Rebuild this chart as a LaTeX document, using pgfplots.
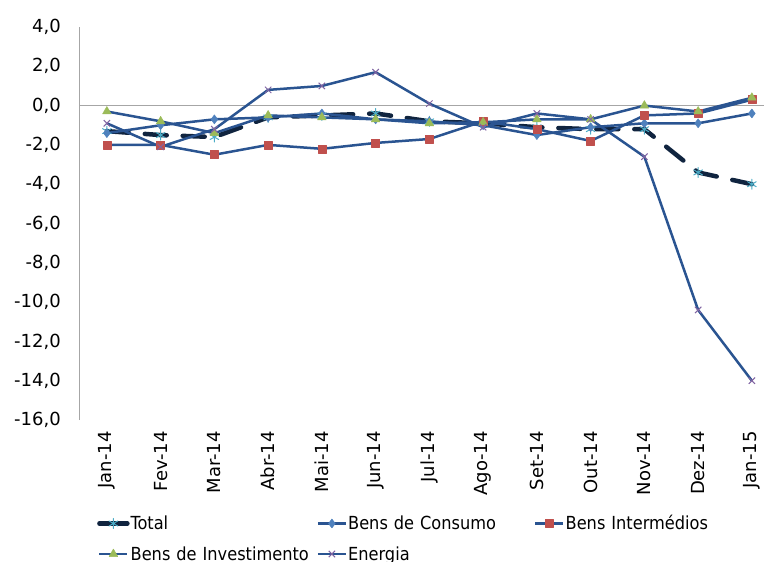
\documentclass[border=0pt]{standalone}
\usepackage{pgfplots}
\pgfplotsset{compat=1.18}
\usepackage{fontspec}
\setmainfont{DejaVu Sans}
\newfontfamily\condfont{DejaVu Sans Condensed}
\definecolor{linec}{HTML}{2A5491}
\definecolor{totline}{HTML}{10243F}
\definecolor{cyanm}{HTML}{4BACC6}
\definecolor{bluem}{HTML}{4F81BD}
\definecolor{redm}{HTML}{C0504D}
\definecolor{greenm}{HTML}{9BBB59}
\definecolor{purplem}{HTML}{8064A2}
\begin{document}
\begin{tikzpicture}
\begin{axis}[
  scale only axis,
  width=698.75bp, height=393bp,
  xmin=-0.5, xmax=12.5,
  ymin=-16, ymax=4,
  axis line style={draw=none},
  major tick length=0pt,
  xtick={0,...,12},
  xticklabels={Jan-14,Fev-14,Mar-14,Abr-14,Mai-14,Jun-14,Jul-14,Ago-14,Set-14,Out-14,Nov-14,Dez-14,Jan-15},
  ytick={-16,-14,...,4},
  tick label style={font=\fontsize{18bp}{21bp}\selectfont},
  xticklabel style={rotate=90, anchor=east, inner sep=0pt, xshift=-11bp},
  yticklabel style={inner sep=0pt, xshift=-19bp},
  /pgf/number format/.cd, fixed, fixed zerofill, precision=1, use comma, assume math mode=true,
  /pgfplots/.cd,
  clip=false,
  legend columns=3,
  legend cell align=left,
  legend style={draw=none, fill=none, at={(0.02,-0.235)}, anchor=north west,
    font=\condfont\fontsize{18bp}{21bp}\selectfont,
    column sep=0pt, row sep=13bp,
    nodes={inner sep=1bp, text width=185bp}},
  legend image code/.code={\draw[mark repeat=2,mark phase=2,line width=2.5bp] plot coordinates {(0bp,0bp) (14bp,0bp) (28bp,0bp)};},
  every axis plot/.append style={line join=round},
]
\draw[gray!70, line width=1bp] (axis cs:-0.5,-16) -- (axis cs:-0.5,4);
\draw[gray!70, line width=1bp] (axis cs:-0.5,0) -- (axis cs:12.5,0);

\addplot[totline, line width=4.5bp, line cap=round, dash pattern=on 22bp off 16bp,
  mark=asterisk, mark size=5bp, mark options={solid, draw=cyanm, line width=1bp},
  legend image code/.code={\draw[solid, line width=4.5bp, mark repeat=2, mark phase=2] plot coordinates {(0bp,0bp) (14bp,0bp) (28bp,0bp)};}]
  coordinates {(0,-1.3) (1,-1.5) (2,-1.6) (3,-0.6) (4,-0.5) (5,-0.4) (6,-0.8) (7,-0.9) (8,-1.1) (9,-1.2) (10,-1.2) (11,-3.4) (12,-4.0)};
\addlegendentry{Total}

\addplot[linec, line width=2.5bp, mark=diamond*, mark size=4.5bp, mark options={draw=bluem, fill=bluem, line width=0.5bp}]
  coordinates {(0,-1.4) (1,-1.0) (2,-0.7) (3,-0.6) (4,-0.4) (5,-0.7) (6,-0.8) (7,-1.0) (8,-1.5) (9,-1.1) (10,-0.9) (11,-0.9) (12,-0.4)};
\addlegendentry{Bens de Consumo}

\addplot[linec, line width=2.5bp, mark=square*, mark size=4bp, mark options={draw=redm, fill=redm, line width=0.5bp}]
  coordinates {(0,-2.0) (1,-2.0) (2,-2.5) (3,-2.0) (4,-2.2) (5,-1.9) (6,-1.7) (7,-0.8) (8,-1.2) (9,-1.8) (10,-0.5) (11,-0.4) (12,0.3)};
\addlegendentry{Bens Intermédios}

\addplot[linec, line width=2.5bp, mark=triangle*, mark size=5bp, mark options={draw=greenm, fill=greenm, line width=0.5bp}]
  coordinates {(0,-0.3) (1,-0.8) (2,-1.4) (3,-0.5) (4,-0.6) (5,-0.7) (6,-0.9) (7,-0.85) (8,-0.7) (9,-0.7) (10,0.0) (11,-0.3) (12,0.4)};
\addlegendentry{Bens de Investimento}

\addplot[linec, line width=2.5bp, mark=x, mark size=4.5bp, mark options={draw=purplem, line width=1bp}]
  coordinates {(0,-0.9) (1,-2.1) (2,-1.2) (3,0.8) (4,1.0) (5,1.7) (6,0.1) (7,-1.1) (8,-0.4) (9,-0.7) (10,-2.6) (11,-10.4) (12,-14.0)};
\addlegendentry{Energia}
\end{axis}
\pgfresetboundingbox
\path[use as bounding box] (-80bp,-142bp) rectangle (684bp,420bp);
\end{tikzpicture}
\end{document}
